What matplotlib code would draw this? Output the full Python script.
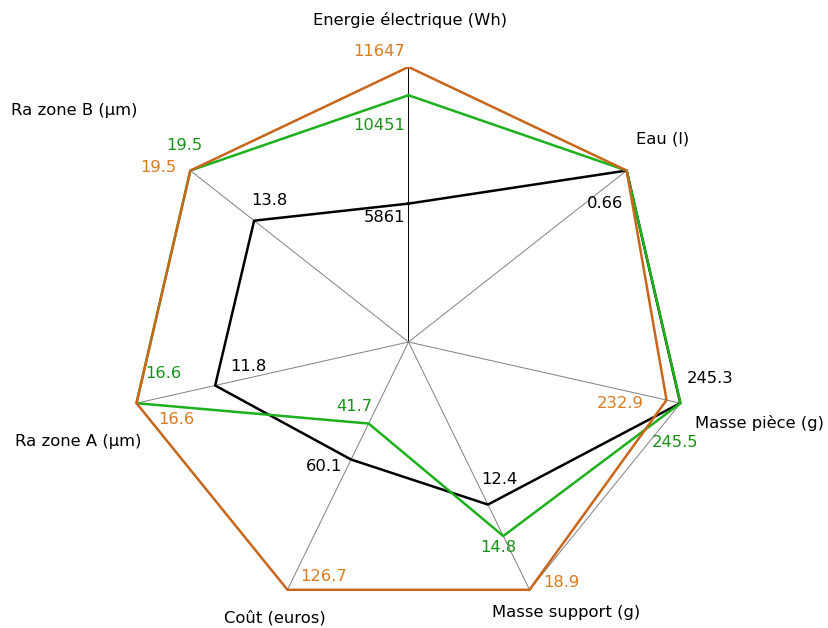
import numpy as np
import matplotlib.pyplot as plt

axes_labels = ['Energie électrique (Wh)', 'Eau (l)', 'Masse pièce (g)', 'Masse support (g)',
               'Coût (euros)', 'Ra zone A (µm)', 'Ra zone B (µm)']
black_vals = [5861, 0.66, 245.3, 12.4, 60.1, 11.8, 13.8]
green_vals = [10451, 0.66, 245.5, 14.8, 41.7, 16.6, 19.5]
orange_vals = [11647, 0.66, 232.9, 18.9, 126.7, 16.6, 19.5]
val_text = {
    'black': ['5861', '0.66', '245.3', '12.4', '60.1', '11.8', '13.8'],
    'green': ['10451', '', '245.5', '14.8', '41.7', '16.6', '19.5'],
    'orange': ['11647', '', '232.9', '18.9', '126.7', '16.6', '19.5'],
}

# label offsets in pixels from the point
off_black = [(-24, -14), (-22, -33), (30, 25), (11, 25), (-27, -7), (33, 19), (15, 20)]
off_green = [(-29, -30), (0, 0), (-5, -39), (-5, -11), (-14, 17), (27, 30), (-6, 25)]
off_orange = [(-29, 15), (0, 0), (-46, -3), (32, 7), (36, 13), (40, -16), (-32, 3)]
off_axis = [(2, 47), (36, 32), (79, -20), (37, -23), (-13, -28), (-58, -38), (-116, 60)]

ORANGE = '#C8661C'
ORANGE_TXT = '#DC7A1E'
GREEN = '#1DB01D'
GREEN_TXT = '#179417'
FS = 11.8

n = len(axes_labels)
maxv = np.max([black_vals, green_vals, orange_vals], axis=0)
theta = np.arange(n) * 2 * np.pi / n
sx, cy = np.sin(theta), np.cos(theta)

fig = plt.figure(figsize=(8.29, 6.28), dpi=100)
# centre at (408.5, 342) px, radius 279 px wide by 275 px high
ax = fig.add_axes([129.5 / 829, 11 / 628, 558 / 829, 550 / 628])
ax.set_xlim(-1, 1)
ax.set_ylim(-1, 1)
ax.axis('off')

# spokes and outer frame
for i in range(n):
    ax.plot([0, sx[i]], [0, cy[i]], color='black' if i == 0 else '#808080', lw=0.7, zorder=1)
ax.plot(np.append(sx, sx[0]), np.append(cy, cy[0]), color='#808080', lw=0.7, zorder=1)

series = [(black_vals, 'black', 'black', 'black', off_black),
          (green_vals, GREEN, GREEN_TXT, 'green', off_green),
          (orange_vals, ORANGE, ORANGE_TXT, 'orange', off_orange)]
for z, (vals, col, tcol, key, offs) in enumerate(series):
    r = np.array(vals) / maxv
    x, y = r * sx, r * cy
    ax.plot(np.append(x, x[0]), np.append(y, y[0]), color=col, lw=1.8, zorder=3 + z)
    for i in range(n):
        if val_text[key][i]:
            ax.annotate(val_text[key][i], (x[i], y[i]), xytext=offs[i],
                        textcoords='offset pixels', ha='center', va='center',
                        color=tcol, fontsize=FS, zorder=10, annotation_clip=False)

for i in range(n):
    ax.annotate(axes_labels[i], (sx[i], cy[i]), xytext=off_axis[i], textcoords='offset pixels',
                ha='center', va='center', fontsize=FS, color='black', annotation_clip=False)

fig.savefig('out.png', dpi=100)
